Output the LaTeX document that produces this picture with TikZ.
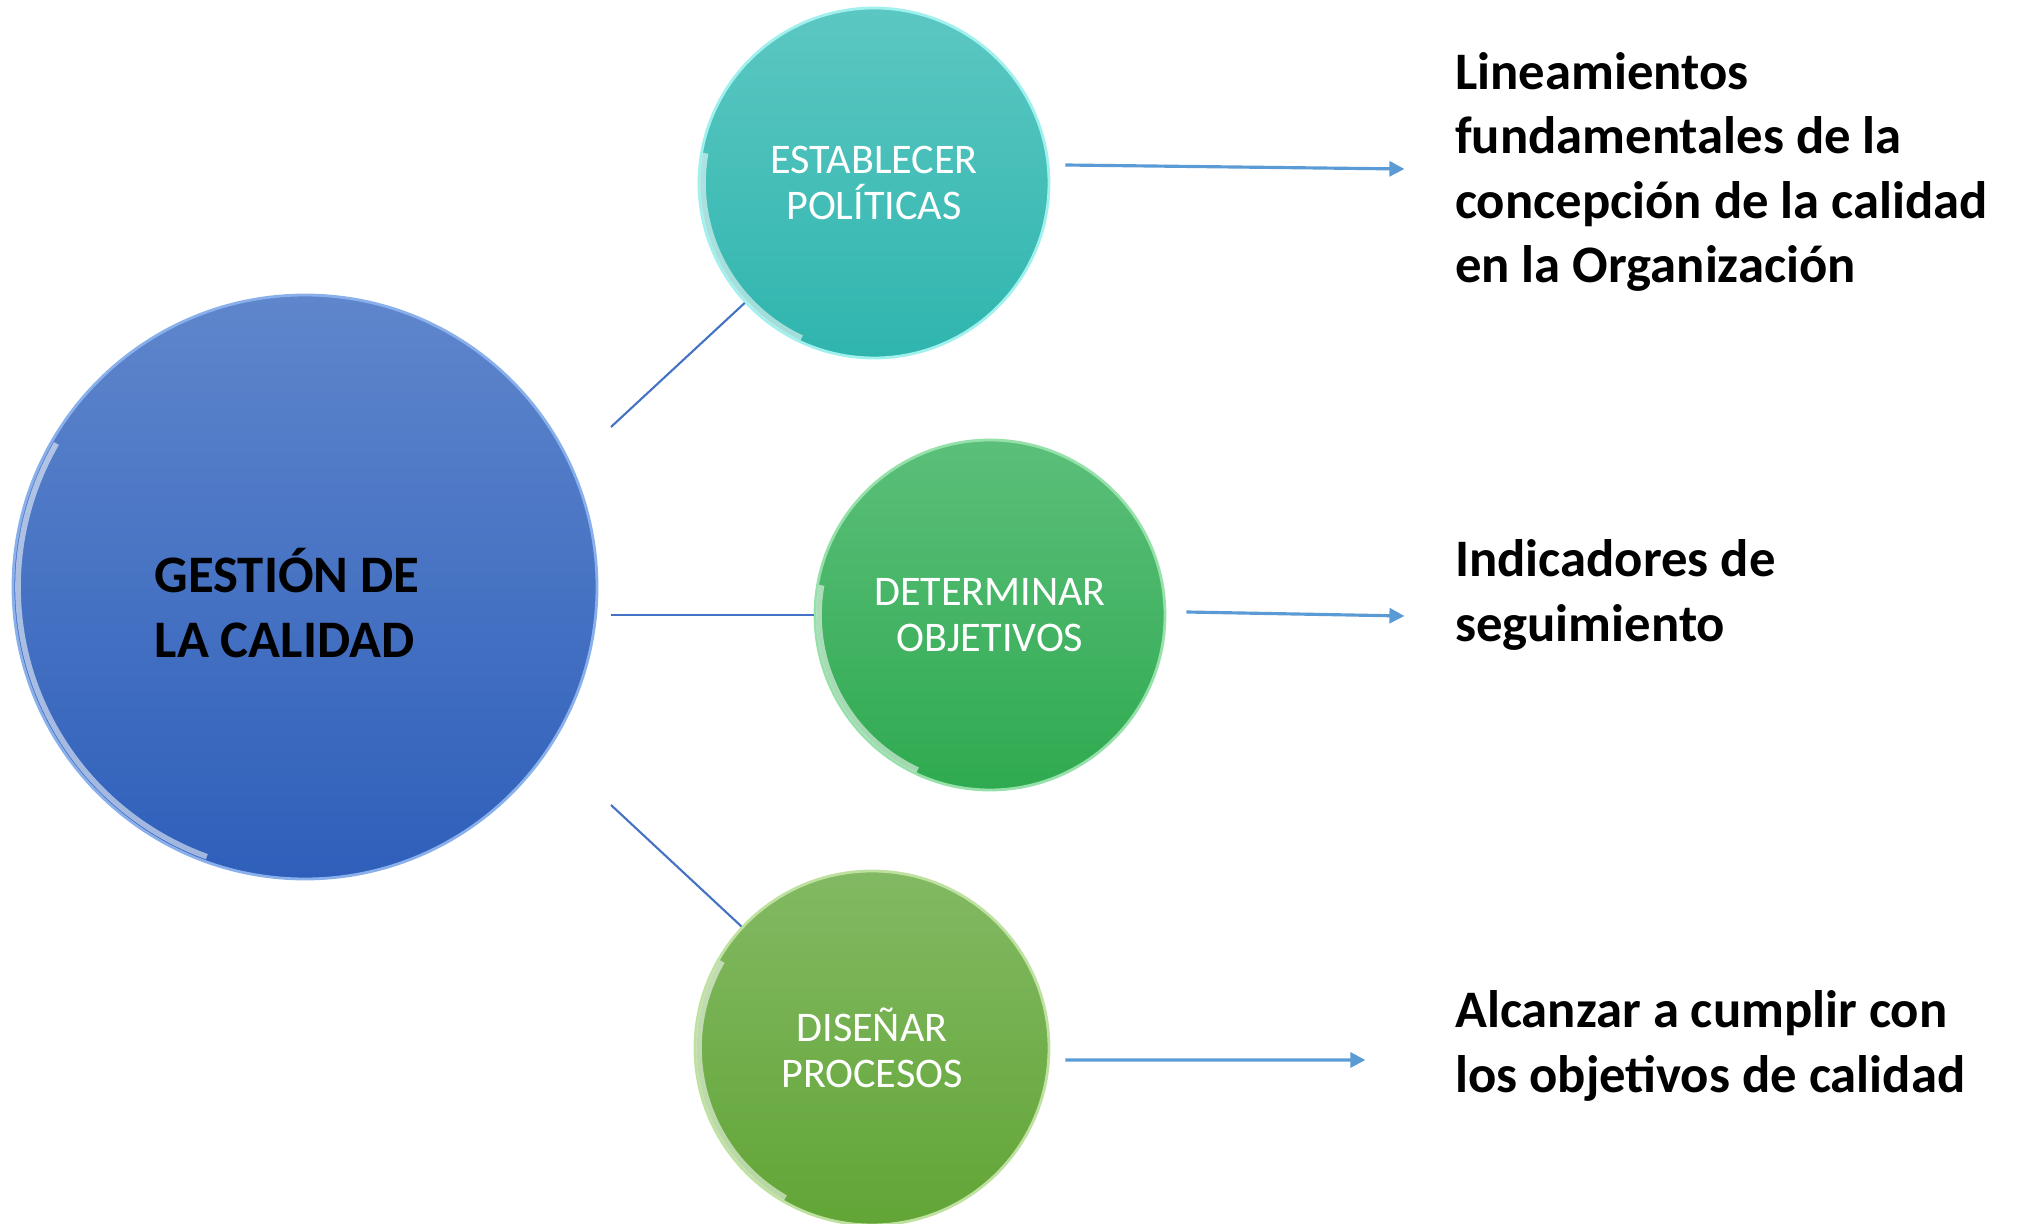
\documentclass[tikz,border=0pt]{standalone}
\usepackage{fontspec}
\setmainfont{Carlito}
\usepackage{tikz}
\usetikzlibrary{positioning, arrows.meta, shapes.geometric}

\definecolor{lineBlue}{RGB}{68,114,196}
\definecolor{arrowBlue}{RGB}{91,155,213}

\begin{document}
\begin{tikzpicture}[node distance=2cm]
	\tikzstyle{etapa} = [circle, minimum size=3.5cm, inner sep=0pt, align=center, text=white, font=\fontsize{12}{12.9}\selectfont, line width=0.8pt]
	\tikzstyle{gestionStyle} = [circle, minimum size=5.84cm, inner sep=0pt, top color={rgb,255:red,95;green,134;blue,204}, bottom color={rgb,255:red,46;green,95;blue,186}, draw={rgb,255:red,138;green,176;blue,236}, line width=0.8pt]
	\tikzstyle{resultado} = [align=left, inner sep=0pt, font=\fontsize{15}{18.3}\selectfont\bfseries]
	\tikzstyle{linea} = [lineBlue, line width=0.6pt]
	\tikzstyle{arrow} = [arrowBlue, line width=0.9pt, -{Triangle[length=0.15cm, width=0.15cm]}]
	\tikzstyle{brillo} = [white, line width=1.6pt, opacity=0.55]
	\useasboundingbox (0,0) rectangle (20.22,12.23);
	\node (gestion) [gestionStyle] at (3.05,6.36) {};
	\node (gestionTexto) [resultado, xshift=-0.18cm, yshift=-0.16cm] at (gestion.center) {GESTIÓN DE\\LA CALIDAD};
	\node (politicas) [etapa, right of=gestion, xshift=3.69cm, yshift=4.04cm, top color={rgb,255:red,92;green,199;blue,194}, bottom color={rgb,255:red,47;green,181;blue,174}, draw={rgb,255:red,160;green,240;blue,238}] {ESTABLECER\\POLÍTICAS};
	\node (objetivos) [etapa, right of=gestion, xshift=4.85cm, yshift=-0.28cm, top color={rgb,255:red,91;green,191;blue,122}, bottom color={rgb,255:red,47;green,170;blue,80}, draw={rgb,255:red,150;green,225;blue,170}] {DETERMINAR\\OBJETIVOS};
	\node (procesos) [etapa, right of=gestion, xshift=3.67cm, yshift=-4.61cm, minimum size=3.54cm, top color={rgb,255:red,130;green,185;blue,99}, bottom color={rgb,255:red,98;green,165;blue,54}, draw={rgb,255:red,190;green,225;blue,160}] {DISEÑAR\\PROCESOS};
	\node (lineamientos) [resultado, right=4.04cm of politicas, yshift=0.11cm] {Lineamientos\\fundamentales de la\\concepción de la calidad\\en la Organización};
	\node (indicadores) [resultado, right=2.88cm of objetivos, yshift=0.2cm] {Indicadores de\\seguimiento};
	\node (alcanzar) [resultado, right=4.04cm of procesos, yshift=0.02cm] {Alcanzar a cumplir con\\los objetivos de calidad};
	% brillo en el borde
	\draw [brillo] (gestion.center) ++(150:2.87) arc[start angle=150, end angle=250, radius=2.87];
	\draw [brillo] (politicas.center) ++(170:1.71) arc[start angle=170, end angle=245, radius=1.71];
	\draw [brillo] (objetivos.center) ++(170:1.71) arc[start angle=170, end angle=245, radius=1.71];
	\draw [brillo] (procesos.center) ++(150:1.73) arc[start angle=150, end angle=240, radius=1.73];
	\coordinate (salida1) at (6.11,7.96);
	\coordinate (salida2) at (6.11,6.08);
	\coordinate (salida3) at (6.11,4.18);
	\draw [linea] (salida1) -- (politicas);
	\draw [linea] (salida2) -- (objetivos);
	\draw [linea] (salida3) -- (procesos);
	\draw [arrow] ([xshift=0.15cm, yshift=0.18cm]politicas.east) -- ([xshift=-0.5cm, yshift=0.03cm]lineamientos.west);
	\draw [arrow] ([xshift=0.2cm, yshift=0.03cm]objetivos.east) -- ([xshift=-0.5cm, yshift=-0.21cm]indicadores.west);
	\draw [arrow] ([xshift=0.15cm, yshift=-0.12cm]procesos.east) -- ([xshift=-0.89cm, yshift=-0.14cm]alcanzar.west);
\end{tikzpicture}
\end{document}
